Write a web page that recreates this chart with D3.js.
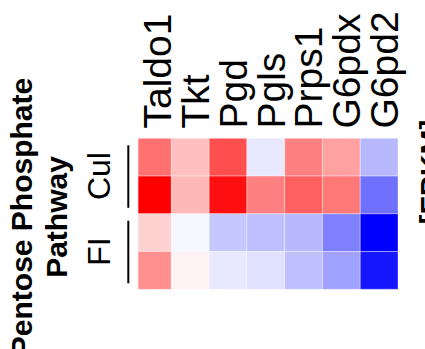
<!DOCTYPE html>
<html><head><meta charset="utf-8">
<script src="https://cdn.jsdelivr.net/npm/d3@7"></script>
<style>html,body{margin:0;padding:0;background:#fff;overflow:hidden}svg{display:block}</style>
</head><body>
<script>
const genes = ["Taldo1","Tkt","Pgd","Pgls","Prps1","G6pdx","G6pd2"];
const rows = ["Cul-1","Cul-2","FI-1","FI-2"];
const groups = ["Cul","FI"];
const groupRows = [["Cul-1","Cul-2"],["FI-1","FI-2"]];
const valuesCul1 = [0.56, 0.25, 0.69, -0.09, 0.50, 0.37, -0.28];
const valuesCul2 = [1.00, 0.28, 0.94, 0.50, 0.62, 0.53, -0.56];
const valuesFI1  = [0.18, -0.03, -0.22, -0.25, -0.28, -0.50, -1.00];
const valuesFI2  = [0.44, 0.05, -0.09, -0.12, -0.25, -0.37, -0.91];
const seriesValues = [valuesCul1, valuesCul2, valuesFI1, valuesFI2];
const titleLines = ["Pentose Phosphate","Pathway"];
const unitLabel = "[FPKM]";

const W = 425, H = 349;
const svg = d3.select("body").append("svg").attr("width", W).attr("height", H);
const font = "'Liberation Sans', Arial, Helvetica, sans-serif";

const x = d3.scaleBand().domain(genes).range([133.6, 398]);
const y = d3.scaleBand().domain(rows).range([138.3, 289.3]);
const color = d3.scaleLinear().domain([-1, 0, 1]).range(["#0000ff", "#ffffff", "#ff0000"]);

svg.append("clipPath").attr("id","hm").append("rect")
  .attr("x", 138.3).attr("y", 0).attr("width", W).attr("height", H);

const cells = [];
rows.forEach((r, i) => genes.forEach((g, j) => cells.push({r, g, v: seriesValues[i][j]})));

svg.append("g").attr("clip-path","url(#hm)")
  .selectAll("rect").data(cells).join("rect")
  .attr("x", d => x(d.g)).attr("y", d => y(d.r))
  .attr("width", x.bandwidth()).attr("height", y.bandwidth())
  .attr("fill", d => color(d.v))
  .attr("stroke", "#ffffff").attr("stroke-opacity", 0.35).attr("stroke-width", 1);

// column labels
svg.append("g").selectAll("text").data(genes).join("text")
  .attr("transform", d => `translate(${x(d) + x.bandwidth()},128.5) rotate(-90)`)
  .attr("text-anchor", "start")
  .attr("font-family", font).attr("font-size", 39).attr("fill", "#000")
  .text(d => d);

// group brackets and labels
groups.forEach((g, i) => {
  const top = y(groupRows[i][0]);
  const bot = y(groupRows[i][1]) + y.bandwidth();
  svg.append("line").attr("x1", 128.3).attr("x2", 128.3)
    .attr("y1", top + 7).attr("y2", bot - 6)
    .attr("stroke", "#000").attr("stroke-width", 2);
  svg.append("text")
    .attr("transform", `translate(110,${(top + bot) / 2}) rotate(-90)`)
    .attr("text-anchor", "middle")
    .attr("font-family", font).attr("font-size", 32).attr("fill", "#000")
    .text(g);
});

// title
const tBase = [32, 67];
titleLines.forEach((t, i) => {
  svg.append("text")
    .attr("transform", `translate(${tBase[i]},217) rotate(-90)`)
    .attr("text-anchor", "middle")
    .attr("font-family", font).attr("font-size", 30).attr("font-weight", "bold")
    .attr("fill", "#000").text(t);
});

// unit label (partially off-canvas)
svg.append("text")
  .attr("transform", `translate(441,172) rotate(-90)`)
  .attr("text-anchor", "middle")
  .attr("font-family", font).attr("font-size", 30).attr("font-weight", "bold")
  .attr("fill", "#000").text(unitLabel);
</script>
</body></html>
